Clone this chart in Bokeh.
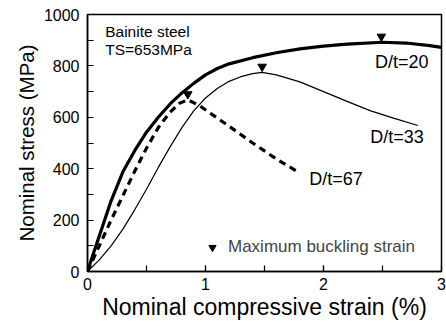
from bokeh.plotting import figure
from bokeh.models import (FixedTicker, Label, Legend, LegendItem, Range1d,
                          ColumnDataSource)
from bokeh.transform import dodge
from bokeh.embed import file_html
from bokeh.resources import INLINE

FONT = "Liberation Sans"

# D/t = 20 (thick solid)
strain_20 = [0, 0.05, 0.1, 0.2, 0.3, 0.4, 0.5, 0.6, 0.7, 0.8, 0.9, 1.0, 1.1,
             1.2, 1.4, 1.6, 1.8, 2.0, 2.2, 2.5, 2.7, 2.9, 3.0]
stress_20 = [0, 70, 138, 275, 388, 470, 542, 600, 652, 695, 732, 765, 790,
             808, 832, 851, 866, 877, 885, 892, 889, 879, 872]

# D/t = 33 (thin solid)
strain_33 = [0, 0.1, 0.2, 0.3, 0.4, 0.5, 0.6, 0.7, 0.8, 0.9, 1.0, 1.1, 1.2,
             1.3, 1.4, 1.48, 1.6, 1.8, 2.0, 2.2, 2.4, 2.6, 2.8]
stress_33 = [0, 45, 100, 165, 240, 320, 405, 485, 560, 625, 675, 712, 740,
             758, 770, 775, 765, 738, 700, 662, 625, 596, 568]

# D/t = 67 (dashed)
strain_67 = [0, 0.1, 0.2, 0.3, 0.4, 0.5, 0.6, 0.7, 0.78, 0.85, 0.95, 1.05,
             1.2, 1.4, 1.6, 1.8]
stress_67 = [0, 100, 200, 295, 390, 480, 560, 620, 655, 668, 645, 613,
             565, 500, 438, 383]

# maximum buckling strain markers
buckling_strain = [2.49, 1.48, 0.85]
buckling_stress = [892, 775, 668]

x_ticks = [0, 1, 2, 3]
x_minor = [0.5, 1, 1.5, 2, 2.5]
y_ticks = [0, 200, 400, 600, 800, 1000]
y_minor = [100, 300, 500, 700, 900]

p = figure(width=446, height=326, x_range=Range1d(0, 3), y_range=Range1d(0, 1000),
           output_backend="svg", toolbar_location=None,
           min_border_left=87, min_border_right=5, min_border_top=14,
           min_border_bottom=55)

p.xgrid.visible = False
p.ygrid.visible = False
p.outline_line_color = "black"
p.outline_line_width = 1.5
p.background_fill_color = "white"
p.border_fill_color = "white"

p.line(strain_20, stress_20, line_color="black", line_width=3.2)
p.line(strain_33, stress_33, line_color="black", line_width=1.2)
p.line(strain_67, stress_67, line_color="black", line_width=3.2, line_dash="7 5")

src = ColumnDataSource(dict(strain=buckling_strain, stress=buckling_stress))
tri = p.scatter(x="strain", y=dodge("stress", 22, range=p.y_range), source=src,
                marker="inverted_triangle", size=8.5, color="black")

for ax, ticks, minor in ((p.xaxis[0], x_ticks, x_minor), (p.yaxis[0], y_ticks, y_minor)):
    ax.ticker = FixedTicker(ticks=ticks, minor_ticks=minor)
    ax.major_tick_in = 6
    ax.major_tick_out = 0
    ax.minor_tick_in = 6
    ax.minor_tick_out = 0
    ax.axis_line_width = 1.5
    ax.major_tick_line_width = 1.2
    ax.minor_tick_line_width = 1.2
    ax.major_label_text_font = FONT
    ax.major_label_text_font_size = "16px"
    ax.major_label_text_color = "black"
    ax.axis_label_text_font = FONT
    ax.axis_label_text_font_style = "normal"
    ax.axis_label_text_color = "black"

p.xaxis.axis_label = "Nominal compressive strain (%)"
p.xaxis.axis_label_text_font_size = "23px"
p.xaxis.major_label_standoff = 6
p.xaxis.axis_label_standoff = 1
p.yaxis.axis_label = "Nominal stress (MPa)"
p.yaxis.axis_label_text_font_size = "20.5px"
p.yaxis.major_label_standoff = 8
p.yaxis.axis_label_standoff = 3

labels = [
    ("D/t=20", 2.89, 817, "right", "18px"),
    ("D/t=33", 2.85, 522, "right", "18px"),
    ("D/t=67", 1.88, 359, "left", "18px"),
    ("Bainite steel", 0.15, 932, "left", "15.5px"),
    ("TS=653MPa", 0.15, 864, "left", "15.5px"),
]
for txt, x, y, align, size in labels:
    p.add_layout(Label(x=x, y=y, text=txt, text_align=align, text_baseline="middle",
                       text_font=FONT, text_font_size=size, text_color="black"))

legend = Legend(items=[LegendItem(label="Maximum buckling strain", renderers=[tri])],
                location=(116, 14), padding=0, margin=0, spacing=0,
                glyph_width=18, glyph_height=18, label_height=20, label_standoff=7,
                label_text_font=FONT, label_text_font_size="17px",
                border_line_alpha=0, background_fill_alpha=0)
p.add_layout(legend)

open("out.html", "w").write(file_html(p, INLINE))
